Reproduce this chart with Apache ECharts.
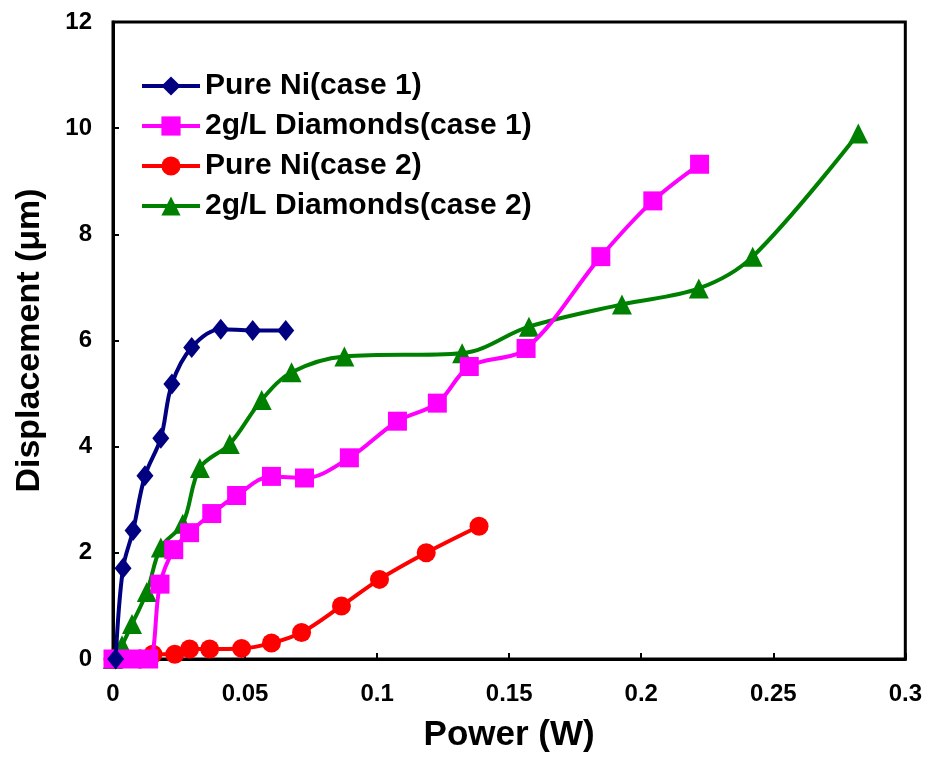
<!DOCTYPE html>
<html>
<head>
<meta charset="utf-8">
<script src="https://cdn.jsdelivr.net/npm/echarts@6/dist/echarts.min.js"></script>
<style>
  html, body { margin: 0; padding: 0; background: #fff; }
  #chart { width: 925px; height: 758px; }
</style>
</head>
<body>
<div id="chart"></div>
<script>
// Displacement versus power for four samples
var seriesNames = ['Pure Ni(case 1)', '2g/L Diamonds(case 1)', 'Pure Ni(case 2)', '2g/L Diamonds(case 2)'];

var pureNi1 = [
  [0.001, 0], [0.0038, 1.71], [0.0076, 2.42], [0.0121, 3.45], [0.0181, 4.16],
  [0.0223, 5.18], [0.0298, 5.87], [0.0408, 6.21], [0.0529, 6.19], [0.0654, 6.19]
];
var diamonds1 = [
  [0, 0], [0.007, 0], [0.0135, 0], [0.0178, 1.41], [0.023, 2.06], [0.029, 2.38],
  [0.0374, 2.74], [0.0468, 3.08], [0.060, 3.44], [0.0725, 3.41], [0.0895, 3.79],
  [0.1077, 4.48], [0.1228, 4.82], [0.1349, 5.51], [0.1564, 5.85], [0.1847, 7.58],
  [0.2044, 8.63], [0.2221, 9.32]
];
var pureNi2 = [
  [0, 0], [0.0102, 0], [0.0151, 0.09], [0.0234, 0.09], [0.029, 0.19], [0.0366, 0.19],
  [0.0487, 0.2], [0.060, 0.3], [0.0714, 0.5], [0.0865, 1.0], [0.1009, 1.5],
  [0.1186, 2.0], [0.1386, 2.5]
];
var diamonds2 = [
  [0, 0], [0.0034, 0.26], [0.0072, 0.66], [0.0128, 1.26], [0.0181, 2.1],
  [0.0264, 2.55], [0.0329, 3.6], [0.0442, 4.05], [0.0563, 4.88], [0.0676, 5.4],
  [0.0876, 5.7], [0.1322, 5.76], [0.1575, 6.26], [0.1927, 6.68], [0.2218, 6.98],
  [0.2422, 7.58], [0.2822, 9.9]
];

var colors = ['#000080', '#ff00ff', '#ff0000', '#008000'];
var symbols = ['diamond', 'rect', 'circle', 'triangle'];
var symbolSizes = [[17, 21], 19, 19, 20];
var allData = [pureNi1, diamonds1, pureNi2, diamonds2];

var fontFamily = '"Liberation Sans", Arial, sans-serif';

var chart = echarts.init(document.getElementById('chart'));

var series = seriesNames.map(function (name, i) {
  return {
    name: name,
    type: 'line',
    data: allData[i],
    smooth: 0.35,
    symbol: symbols[i],
    symbolSize: symbolSizes[i],
    itemStyle: { color: colors[i] },
    lineStyle: { color: colors[i], width: 4 },
    z: 10 - i
  };
});

chart.setOption({
  animation: false,
  backgroundColor: '#ffffff',
  grid: {
    left: 113, top: 22, right: 18, bottom: 96,
    show: true, borderColor: '#000', borderWidth: 3
  },
  legend: {
    orient: 'vertical',
    left: 135, top: 66,
    itemWidth: 58, itemHeight: 24, itemGap: 10,
    data: seriesNames,
    lineStyle: { width: 4 },
    textStyle: { fontFamily: fontFamily, fontWeight: 'bold', fontSize: 30, color: '#000' }
  },
  xAxis: {
    type: 'value', min: 0, max: 0.3, interval: 0.05,
    name: 'Power (W)', nameLocation: 'middle', nameGap: 59,
    nameTextStyle: { fontFamily: fontFamily, fontWeight: 'bold', fontSize: 35, color: '#000' },
    axisLine: { show: true, lineStyle: { color: '#000', width: 3 } },
    axisTick: { show: true, inside: true, length: 6, lineStyle: { color: '#000', width: 2 } },
    axisLabel: { margin: 23, fontFamily: fontFamily, fontWeight: 'bold', fontSize: 24, color: '#000' },
    splitLine: { show: false }
  },
  yAxis: {
    type: 'value', min: 0, max: 12, interval: 2,
    name: 'Displacement (μm)', nameLocation: 'middle', nameGap: 66,
    nameTextStyle: { fontFamily: fontFamily, fontWeight: 'bold', fontSize: 34, color: '#000' },
    axisLine: { show: true, lineStyle: { color: '#000', width: 3 } },
    axisTick: { show: true, inside: true, length: 6, lineStyle: { color: '#000', width: 2 } },
    axisLabel: { margin: 21, fontFamily: fontFamily, fontWeight: 'bold', fontSize: 24, color: '#000' },
    splitLine: { show: false }
  },
  series: series
});
</script>
</body>
</html>
